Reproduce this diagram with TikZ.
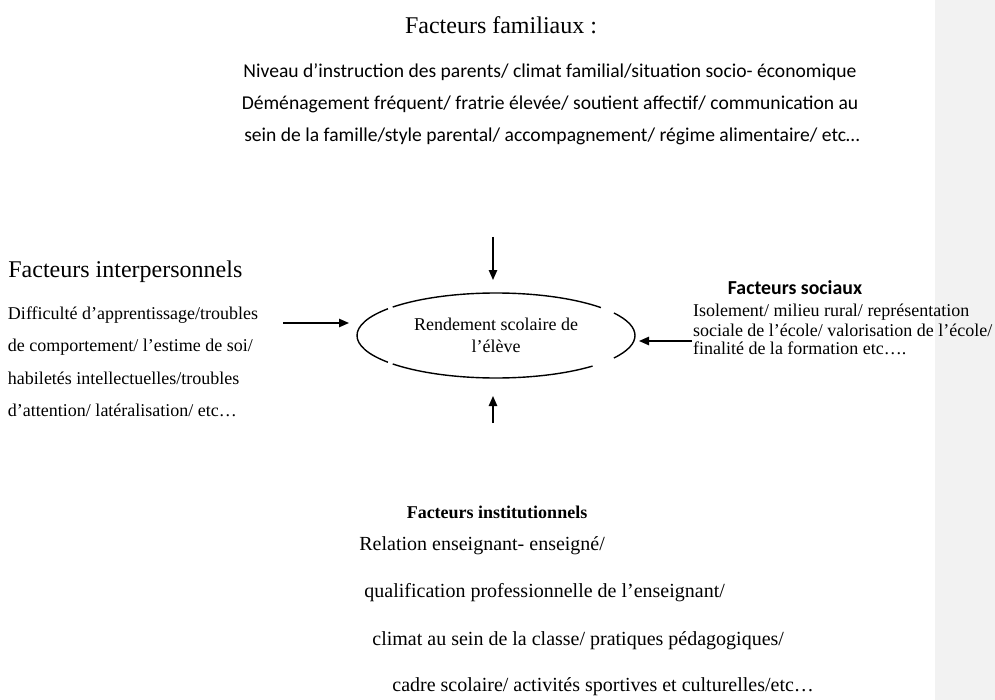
\documentclass[tikz,border=0pt]{standalone}
\usepackage{fontspec}
\setmainfont{Liberation Serif}
\newfontfamily\calfont{Carlito}
\usetikzlibrary{arrows.meta,calc}
\definecolor{margingrey}{HTML}{F2F2F2}
\tikzset{
  txt/.style={inner sep=0pt, outer sep=0pt, font=\fontsize{9}{10}\selectfont},
  bigtitle/.style={inner sep=0pt, font=\fontsize{12}{14}\selectfont},
  famline/.style={inner sep=0pt, font=\calfont\fontsize{9.8}{11}\selectfont},
  instline/.style={inner sep=0pt, anchor=west, font=\fontsize{10}{12}\selectfont},
  arr/.style={line width=0.7pt, -{Triangle[length=5pt,width=4.2pt]}},
  ellarc/.style={line width=0.7pt}
}
\begin{document}
\begin{tikzpicture}[x=0.5pt,y=-0.5pt]
\useasboundingbox (0,0) rectangle (995,700);
\fill[margingrey] (935,0) rectangle (995,700);

% Facteurs familiaux
\node[bigtitle] (famT) at (501,25) {Facteurs familiaux :};
\node[famline] (fam1) at (550,72) {Niveau d’instruction des parents/ climat familial/situation socio- économique};
\node[famline] (fam2) at (550,104) {Déménagement fréquent/ fratrie élevée/ soutient affectif/ communication au};
\node[famline] (fam3) at (552,136) {sein de la famille/style parental/ accompagnement/ régime alimentaire/ etc…};

% Facteurs interpersonnels
\node[bigtitle, anchor=west] (intT) at (8,272) {Facteurs interpersonnels};
\node[txt, anchor=west] (int1) at (8,315) {Difficulté d’apprentissage/troubles};
\node[txt, anchor=west] (int2) at (8,347) {de comportement/ l’estime de soi/};
\node[txt, anchor=west] (int3) at (8,378) {habiletés intellectuelles/troubles};
\node[txt, anchor=west] (int4) at (8,410) {d’attention/ latéralisation/ etc…};

% Ellipse
\node[txt, align=center] (ell) at (496,335.5) {Rendement scolaire de\\[1pt]l’élève};
\draw[ellarc] ([shift={(41:69.5pt and 21.25pt)}]ell.center) arc[start angle=41, end angle=138, x radius=69.5pt, y radius=21.25pt];
\draw[ellarc] ([shift={(141:69.5pt and 21.25pt)}]ell.center) arc[start angle=141, end angle=219, x radius=69.5pt, y radius=21.25pt];
\draw[ellarc] ([shift={(222:69.5pt and 21.25pt)}]ell.center) arc[start angle=222, end angle=314, x radius=69.5pt, y radius=21.25pt];
\draw[ellarc] ([shift={(-32:69.5pt and 21.25pt)}]ell.center) arc[start angle=-32, end angle=32, x radius=69.5pt, y radius=21.25pt];

% Facteurs sociaux
\node[inner sep=0pt, font=\calfont\bfseries\fontsize{9.9}{12}\selectfont] (socT) at (795,288) {Facteurs sociaux};
\node[txt, anchor=west] (soc1) at (693,312) {Isolement/ milieu rural/ représentation};
\node[txt, anchor=west] (soc2) at (693,330) {sociale de l’école/ valorisation de l’école/};
\node[txt, anchor=west] (soc3) at (693,348) {finalité de la formation etc….};

% Facteurs institutionnels
\node[txt, font=\bfseries\fontsize{9}{10}\selectfont] (insT) at (497,512) {Facteurs institutionnels};
\node[instline] (ins1) at (359,546) {Relation enseignant- enseigné/};
\node[instline] (ins2) at (364,593) {qualification professionnelle de l’enseignant/};
\node[instline] (ins3) at (372,641) {climat au sein de la classe/ pratiques pédagogiques/};
\node[instline] (ins4) at (392,687) {cadre scolaire/ activités sportives et culturelles/etc…};

% Arrows
\coordinate (topS) at (493,237);
\coordinate (topE) at (493,280);
\coordinate (botS) at (493,423);
\coordinate (botE) at (493,396);
\coordinate (lefS) at (283,323);
\coordinate (lefE) at (349,323);
\coordinate (rigS) at (692,341);
\coordinate (rigE) at (639,341);
\draw[arr] (topS) -- (topE);
\draw[arr] (botS) -- (botE);
\draw[arr] (lefS) -- (lefE);
\draw[arr] (rigS) -- (rigE);
\end{tikzpicture}
\end{document}
